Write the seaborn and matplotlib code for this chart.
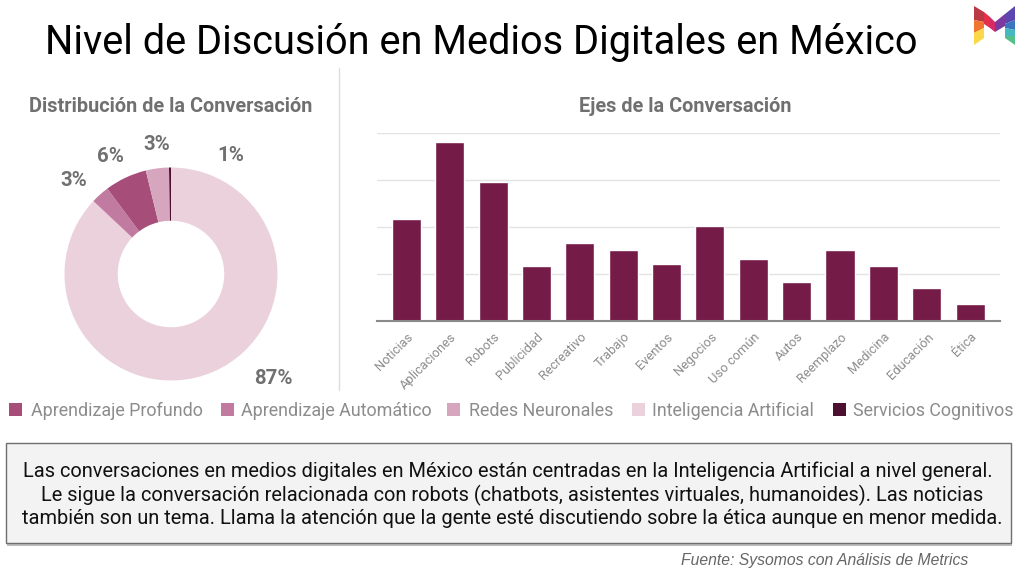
import matplotlib
matplotlib.use("Agg")
import matplotlib.pyplot as plt
import pandas as pd
import seaborn as sns
from matplotlib.patches import Polygon, Rectangle

# Data
temas = ["Noticias", "Aplicaciones", "Robots", "Publicidad", "Recreativo", "Trabajo", "Eventos",
         "Negocios", "Uso común", "Autos", "Reemplazo", "Medicina", "Educación", "Ética"]
menciones = [54, 95, 74, 29, 41.5, 37.5, 30, 50.5, 33, 20.5, 37.5, 29, 17.5, 9]

segmentos = ["Inteligencia Artificial", "Aprendizaje Automático", "Aprendizaje Profundo",
             "Redes Neuronales", "Servicios Cognitivos"]
porcentajes = [87, 2.8, 6.4, 3.5, 0.3]
etiquetas = ["87%", "3%", "6%", "3%", "1%"]
colores = ["#ead1dc", "#c27ba0", "#a64d79", "#d5a6bd", "#4c1130"]

orden_leyenda = ["Aprendizaje Profundo", "Aprendizaje Automático", "Redes Neuronales",
                 "Inteligencia Artificial", "Servicios Cognitivos"]

resumen = ["Las conversaciones en medios digitales en México están centradas en la Inteligencia Artificial a nivel general.",
           "Le sigue la conversación relacionada con robots (chatbots, asistentes virtuales, humanoides). Las noticias",
           "también son un tema. Llama la atención que la gente esté discutiendo sobre la ética aunque en menor medida."]

W, H = 1024, 573

sns.set_theme(style="white")
plt.rcParams["font.family"] = ["Roboto", "DejaVu Sans"]

fig = plt.figure(figsize=(W / 100, H / 100), dpi=100, facecolor="white")


def fx(x):
    return x / W


def fy(y):
    return 1 - y / H


def caja(x0, y0, x1, y1):
    # axes rectangle from pixel edges
    return [fx(x0), fy(y1), (x1 - x0) / W, (y1 - y0) / H]


# Title and headings
fig.text(fx(481.5), fy(42.5), "Nivel de Discusión en Medios Digitales en México", fontsize=28.6,
         color="black", ha="center", va="center")
fig.text(fx(171), fy(106), "Distribución de la Conversación", fontsize=14.3, fontweight="bold",
         color="#707070", ha="center", va="center")
fig.text(fx(685.5), fy(106), "Ejes de la Conversación", fontsize=14.3, fontweight="bold",
         color="#707070", ha="center", va="center")

# Divider
fig.add_artist(plt.Line2D([fx(339), fx(339)], [fy(68), fy(390)], color="#dddddd", lw=1))

# Donut
ax_pie = fig.add_axes(caja(64.5, 167.5, 277.5, 380.5))
ax_pie.pie(porcentajes, colors=colores, startangle=90, counterclock=False, radius=1,
           wedgeprops={"width": 0.5, "edgecolor": "none"})
ax_pie.set_xlim(-1, 1)
ax_pie.set_ylim(-1, 1)

pos_etiquetas = [(273.5, 378), (74, 181), (110.5, 156), (157, 145), (231, 155.5)]
for texto, (x, y) in zip(etiquetas, pos_etiquetas):
    fig.text(fx(x), fy(y), texto, fontsize=14.7, fontweight="bold", color="#707070",
             ha="center", va="center")

# Bars
df = pd.DataFrame({"tema": temas, "menciones": menciones})
ax = fig.add_axes(caja(377, 133, 1000, 320.5))
sns.barplot(data=df, x="tema", y="menciones", color="#741b47", saturation=1, width=0.67, ax=ax, zorder=3)
ax.set_xlim(-0.68, 13.69)
ax.set_ylim(0, 100)
ax.set_yticks([0, 25, 50, 75, 100])
ax.set_yticklabels([])
ax.grid(axis="y", color="#e3e3e3", lw=1, zorder=0)
ax.set_axisbelow(True)
ax.set_xlabel("")
ax.set_ylabel("")
for lado in ["top", "left", "right"]:
    ax.spines[lado].set_visible(False)
ax.spines["bottom"].set_color("#8a8a8a")
ax.spines["bottom"].set_linewidth(1.5)
ax.spines["bottom"].set_zorder(5)
ax.tick_params(axis="x", length=0, pad=7)
ax.set_xticks(range(len(temas)))
ax.set_xticklabels(temas, rotation=45, ha="right", rotation_mode="anchor", fontsize=9.3, color="#8c8c8c")

# Legend
pos_leyenda = [(9, 31), (221, 241), (447, 469), (632, 652), (833, 853)]
for nombre, (xc, xt) in zip(orden_leyenda, pos_leyenda):
    color = colores[segmentos.index(nombre)]
    fig.add_artist(Rectangle((fx(xc), fy(416)), 13 / W, 13 / H, transform=fig.transFigure,
                             facecolor=color, edgecolor="none"))
    fig.text(fx(xt), fy(410.5), nombre, fontsize=12.85, color="#8c8c8c", ha="left", va="center")

# Text box with shadow
fig.add_artist(Rectangle((fx(6.5), fy(546)), 1005 / W, 100 / H, transform=fig.transFigure,
                         facecolor="#8a8a8a", edgecolor="none", alpha=0.55))
fig.add_artist(Rectangle((fx(5.5), fy(543)), 1005 / W, 100 / H, transform=fig.transFigure,
                         facecolor="#f3f3f3", edgecolor="#6e6e6e", lw=1))
for linea, x, y in zip(resumen, [507.5, 512, 512], [471, 495, 519]):
    fig.text(fx(x), fy(y), linea, fontsize=14.45, color="#111111", ha="center", va="center")

fig.text(fx(968), fy(561), "Fuente: Sysomos con Análisis de Metrics", fontsize=11.3, style="italic",
         family="Liberation Sans", color="#666666", ha="right", va="center")

# Logo
logo = [
    ([(974, 6), (984, 12), (984, 22), (974, 20)], "#b93a45"),
    ([(984, 12), (990, 17), (990, 28), (984, 24)], "#e5304a"),
    ([(990, 17), (995, 22), (995, 32), (990, 28)], "#d42a66"),
    ([(974, 20), (984, 22), (984, 28), (974, 33)], "#f0752f"),
    ([(974, 33), (984, 28), (984, 38), (974, 45)], "#fbd848"),
    ([(995, 22), (1005, 14), (1005, 26), (995, 32)], "#7a3aa0"),
    ([(1005, 14), (1015, 6), (1015, 20), (1005, 24)], "#5c46b0"),
    ([(1005, 24), (1015, 20), (1015, 30), (1005, 28)], "#3a76c0"),
    ([(1005, 28), (1015, 30), (1015, 36), (1005, 36)], "#45b8c0"),
    ([(1005, 36), (1015, 36), (1015, 45), (1005, 38)], "#55c08a"),
]
for puntos, color in logo:
    fig.add_artist(Polygon([(fx(x), fy(y)) for x, y in puntos], closed=True, transform=fig.transFigure,
                           facecolor=color, edgecolor="none"))

fig.savefig("out.png", dpi=100, facecolor="white")
plt.close(fig)
